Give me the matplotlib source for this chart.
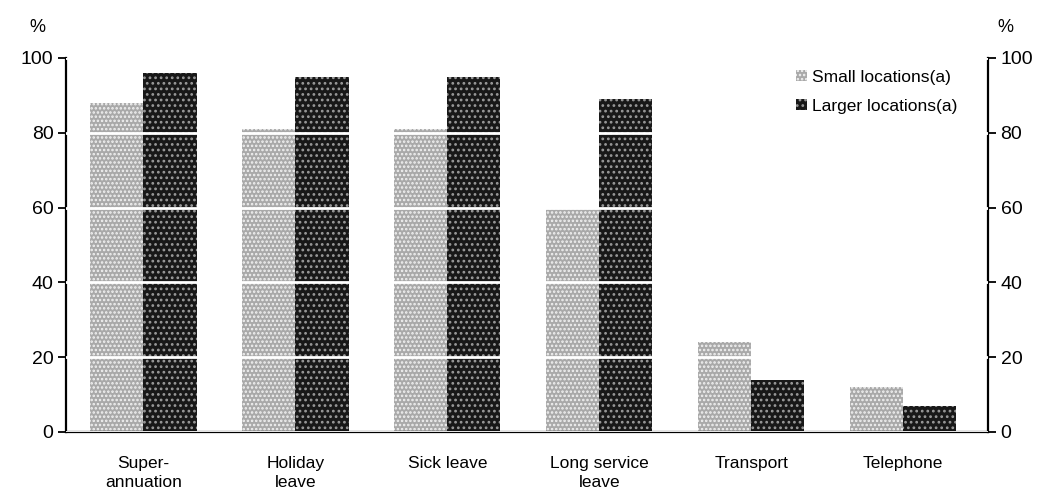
import numpy as np
import matplotlib.pyplot as plt
from matplotlib.patches import Patch

categories = ["Super-\nannuation", "Holiday\nleave", "Sick leave",
              "Long service\nleave", "Transport", "Telephone"]
small = [88, 81, 81, 60, 24, 12]
larger = [96, 95, 95, 89, 14, 7]

plt.rcParams['font.family'] = ['Liberation Sans', 'DejaVu Sans']
plt.rcParams['hatch.linewidth'] = 1.2

fig = plt.figure(figsize=(10.39, 5.0), dpi=100)
ax = fig.add_axes([0.0635, 0.136, 0.8875, 0.748])

x = np.arange(len(categories))
w = 0.35
light = dict(color='#a9a9a9', hatch='....', edgecolor='#f2f2f2', linewidth=0)
dark = dict(color='#181818', hatch='...', edgecolor='#9a9a9a', linewidth=0)
ax.bar(x - w / 2, small, w, **light)
ax.bar(x + w / 2, larger, w, **dark)

ax.set_xlim(-0.51, 5.56)
ax.set_ylim(0, 100)
ax.set_yticks([0, 20, 40, 60, 80, 100])
ax.set_xticks(x)
ax.set_xticklabels(categories, fontsize=12.5, linespacing=1.4)
ax.tick_params(axis='x', length=0, pad=17)
ax.tick_params(axis='y', direction='out', length=6, width=1.3, labelsize=14,
               right=True, labelright=True, pad=3)

ax.yaxis.grid(True, color='white', linewidth=2)
ax.set_axisbelow(False)
ax.spines['top'].set_visible(False)
for s in ['left', 'right', 'bottom']:
    ax.spines[s].set_linewidth(1.6)

fig.text(37 / 1039, 1 - 28 / 500, '%', fontsize=13, ha='center', va='center')
fig.text(1005 / 1039, 1 - 28 / 500, '%', fontsize=13, ha='center', va='center')

handles = [Patch(facecolor='#a9a9a9', hatch='....', edgecolor='#f2f2f2', linewidth=0),
           Patch(facecolor='#181818', hatch='...', edgecolor='#9a9a9a', linewidth=0)]
ax.legend(handles, ['Small locations(a)', 'Larger locations(a)'], loc='upper left',
          bbox_to_anchor=(0.775, 1.01), frameon=False, fontsize=12.5,
          handlelength=0.6, handleheight=0.6, handletextpad=0.3, labelspacing=0.8)

fig.savefig('out.png', dpi=100)
